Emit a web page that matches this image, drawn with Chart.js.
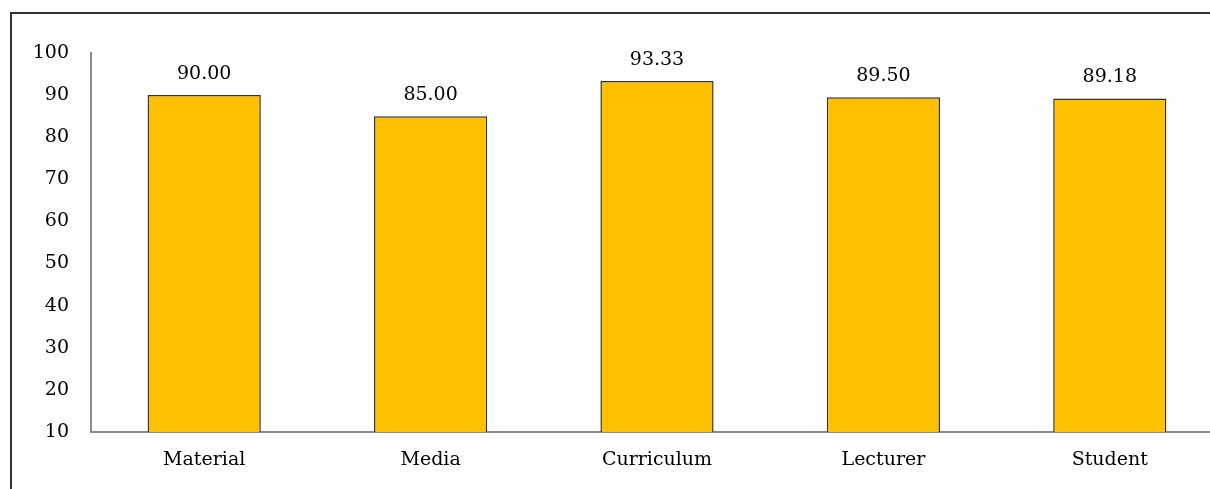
<!DOCTYPE html>
<html>
<head>
<meta charset="utf-8">
<script src="https://cdn.jsdelivr.net/npm/chart.js@4"></script>
<style>
  html, body { margin: 0; padding: 0; background: #fff; overflow: hidden; }
  #wrap { position: relative; width: 1210px; height: 489px; overflow: hidden; }
  #chart { position: absolute; left: 0; top: 0; }
</style>
</head>
<body>
<div id="wrap">
  <canvas id="chart" width="1225" height="489"></canvas>
</div>
<script>
// ---- data ----
const categories = ['Material', 'Media', 'Curriculum', 'Lecturer', 'Student'];
const scores = [90.00, 85.00, 93.33, 89.50, 89.18];
const yTicks = [10, 20, 30, 40, 50, 60, 70, 80, 90, 100];

const FONT = "'DejaVu Serif', serif";

// outer chart frame (only left + top edges are inside the picture)
const outerFrame = {
  id: 'outerFrame',
  beforeDraw(chart) {
    const { ctx } = chart;
    ctx.save();
    ctx.strokeStyle = '#333';
    ctx.lineWidth = 2;
    ctx.beginPath();
    ctx.moveTo(11, chart.height + 5);
    ctx.lineTo(11, 13);
    ctx.lineTo(chart.width + 5, 13);
    ctx.stroke();
    ctx.restore();
  }
};

// value labels above each bar
const valueLabels = {
  id: 'valueLabels',
  afterDatasetsDraw(chart) {
    const { ctx } = chart;
    const meta = chart.getDatasetMeta(0);
    ctx.save();
    ctx.font = '19px ' + FONT;
    ctx.fillStyle = '#000';
    ctx.textAlign = 'center';
    ctx.textBaseline = 'bottom';
    meta.data.forEach((bar, i) => {
      ctx.fillText(scores[i].toFixed(2), bar.x, bar.y - 12);
    });
    ctx.restore();
  }
};

new Chart(document.getElementById('chart'), {
  type: 'bar',
  data: {
    labels: categories,
    datasets: [{
      data: scores,
      backgroundColor: '#FFC000',
      borderColor: '#333',
      borderWidth: 1.5,
      barPercentage: 0.5,
      categoryPercentage: 1
    }]
  },
  options: {
    responsive: false,
    animation: false,
    layout: { padding: { top: 53, right: 2, left: 0, bottom: 0 } },
    plugins: { legend: { display: false }, tooltip: { enabled: false } },
    scales: {
      x: {
        grid: { display: false, drawTicks: false },
        border: { display: true, color: '#8c8c8c', width: 2 },
        ticks: { color: '#000', font: { family: FONT, size: 19 }, padding: 17 },
        afterFit(s) { s.height = 57; }
      },
      y: {
        min: 10,
        max: 100,
        grid: { display: false, drawTicks: false },
        border: { display: true, color: '#8c8c8c', width: 2 },
        ticks: {
          color: '#000',
          font: { family: FONT, size: 19 },
          padding: 22,
          stepSize: 10,
          callback: (v) => yTicks.includes(v) ? v : ''
        },
        afterFit(s) { s.width = 91; }
      }
    }
  },
  plugins: [outerFrame, valueLabels]
});
</script>
</body>
</html>
